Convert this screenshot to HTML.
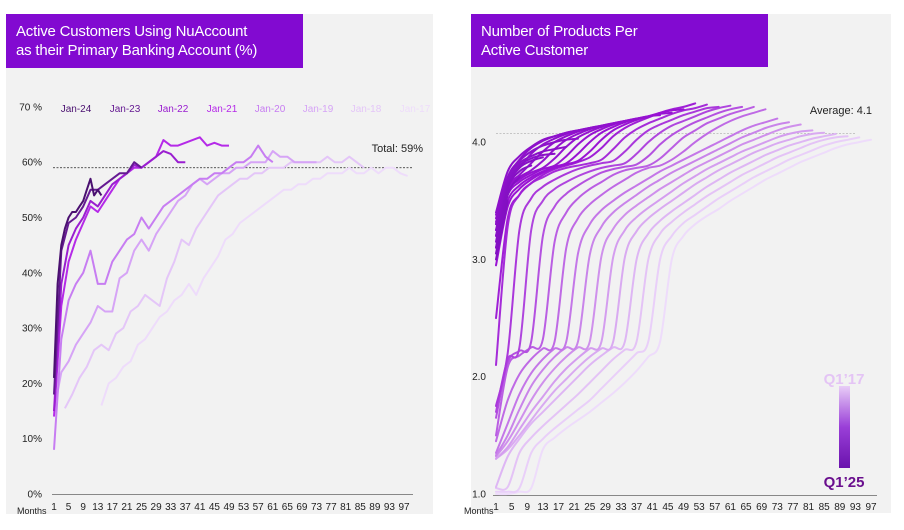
<!DOCTYPE html>
<html><head><meta charset="utf-8">
<style>
html,body{margin:0;padding:0;background:#fff;width:904px;height:530px;overflow:hidden;font-family:"Liberation Sans",sans-serif;}
.panel{position:absolute;background:#f2f2f2;}
.title{position:absolute;background:#820ad1;color:#fff;font-size:15px;line-height:19px;padding:8px 0 0 10px;box-sizing:border-box;letter-spacing:-0.2px;}
svg{position:absolute;left:0;top:0;}
</style></head><body>
<div class="panel" style="left:6px;top:14px;width:427px;height:500px;"></div>
<div class="panel" style="left:471px;top:14px;width:420px;height:499px;"></div>
<div class="title" style="left:6px;top:14px;width:297px;height:54px;">Active Customers Using NuAccount<br>as their Primary Banking Account (%)</div>
<div class="title" style="left:471px;top:14px;width:297px;height:53px;">Number of Products Per<br>Active Customer</div>
<svg id="chart" width="904" height="530" xmlns="http://www.w3.org/2000/svg">
<defs><linearGradient id="lg" x1="0" y1="0" x2="0" y2="1"><stop offset="0" stop-color="#e8cdf7"/><stop offset="0.5" stop-color="#9a3fd8"/><stop offset="1" stop-color="#6a12ad"/></linearGradient></defs>
</svg>
<script>
// ---------- LEFT CHART DATA ----------
const leftYTicks = [0,10,20,30,40,50,60,70];
const leftYTickLabels = ["0%","10%","20%","30%","40%","50%","60%","70 %"];
const monthTicks = [1,5,9,13,17,21,25,29,33,37,41,45,49,53,57,61,65,69,73,77,81,85,89,93,97];
const leftCohorts = ["Jan-24","Jan-23","Jan-22","Jan-21","Jan-20","Jan-19","Jan-18","Jan-17"];
const leftStarts = [1,1,1,1,1,1,4,14];
const leftSteps = [1,2,2,2,2,2,2,2];
const leftTotal = 59;
const lJan24 = [21,38,45,48,50,51,51,52,53,55,57,54,55,54];
const lJan23 = [18,44,49,50,52,55,55,56,57,58,58,60,59];
const lJan22 = [15,38,45,48,50,53,52,54,56,57,58,59.5,59,60,61,62,61.5,60,60];
const lJan21 = [14,34,42,46,49,52,51,53,55,57,58,59,59,60,61,64,63,63,63.5,64,64.5,63,63.5,63,63];
const lJan20 = [8,28,35,38,40,44,38,38,42,44,46,47,50,48,50,52,53,54,55,56,57,57,58,58,59,60,60,61,63,61,60];
const lJan19 = [15,22,24,27,29,31,34,33,33,39,40,44,46,44,47,49,51,53,54,56,57,56,57,58,58,59,59,60,60,60,62,61,61,60,60,60,60];
const lJan18 = [15.5,18,21,23,26,27,26,29,30,33,34,36,35,34,39,42,46,45,48,50,52,54,55,56,57,57,58,58,59,59,59,60,60,60,60,60,61,60,60,61,60,59];
const lJan17 = [16,20,21,23,24,27,28,30,32,33,35,36,38,36,39,41,43,46,47,49,50,51,52,53,54,55,55,56,56,57,57,58,58,58,59,58,58,59,58,59,59,58,57.5];
const leftSeries = [lJan24,lJan23,lJan22,lJan21,lJan20,lJan19,lJan18,lJan17];

// ---------- RIGHT CHART DATA ----------
const rightYTicks = [1,2,3,4];
const rightYTickLabels = ["1.0","2.0","3.0","4.0"];
const rightAverage = 4.1;
const rightStep = 3;
const rightCohorts = ["Q1'17","Q2'17","Q3'17","Q4'17","Q1'18","Q2'18","Q3'18","Q4'18","Q1'19","Q2'19","Q3'19","Q4'19","Q1'20","Q2'20","Q3'20","Q4'20","Q1'21","Q2'21","Q3'21","Q4'21","Q1'22","Q2'22","Q3'22","Q4'22","Q1'23","Q2'23","Q3'23","Q4'23","Q1'24","Q2'24","Q3'24","Q4'24"];
const r0 = [1.0,1.0,1.02,1.05,1.38,1.48,1.56,1.63,1.7,1.78,1.86,1.95,2.05,2.17,2.3, 3.0,3.2,3.3,3.37,3.43,3.5,3.56,3.62,3.68,3.73,3.78,3.83,3.87,3.91,3.95,3.98,4.0,4.02];
const r1 = [1.02,1.02,1.05,1.35,1.47,1.56,1.64,1.72,1.8,1.9,2.0,2.1,2.2,2.3, 3.0,3.2,3.31,3.38,3.45,3.52,3.58,3.64,3.7,3.75,3.8,3.85,3.89,3.93,3.97,4.0,4.02,4.04];
const r2 = [1.05,1.06,1.35,1.48,1.58,1.67,1.76,1.85,1.95,2.05,2.15,2.23,2.3, 3.0,3.22,3.32,3.4,3.47,3.54,3.6,3.66,3.72,3.77,3.82,3.87,3.91,3.95,3.99,4.02,4.04,4.05];
const r3 = [1.06,1.32,1.47,1.6,1.7,1.8,1.9,2.0,2.1,2.18,2.25,2.3, 3.0,3.22,3.33,3.41,3.48,3.55,3.62,3.68,3.74,3.79,3.84,3.89,3.93,3.97,4.0,4.03,4.05,4.07];
const r4 = [1.3,1.38,1.5,1.63,1.76,1.88,1.98,2.08,2.17,2.24,2.3, 3.02,3.24,3.35,3.43,3.5,3.57,3.64,3.7,3.76,3.81,3.86,3.91,3.95,3.99,4.02,4.05,4.07,4.08];
const r5 = [1.3,1.4,1.55,1.7,1.83,1.96,2.07,2.16,2.24,2.3, 3.02,3.25,3.36,3.44,3.51,3.58,3.65,3.71,3.77,3.82,3.87,3.92,3.96,4.0,4.04,4.07,4.09,4.1];
const r6 = [1.32,1.45,1.62,1.8,1.95,2.07,2.17,2.25,2.3, 3.03,3.26,3.38,3.46,3.53,3.6,3.66,3.72,3.78,3.83,3.88,3.93,3.98,4.02,4.06,4.1,4.13,4.15];
const r7 = [1.33,1.5,1.72,1.92,2.06,2.17,2.25,2.3, 3.04,3.28,3.4,3.48,3.55,3.62,3.68,3.74,3.79,3.84,3.89,3.94,3.99,4.04,4.08,4.12,4.15,4.17];
const r8 = [1.35,1.6,1.85,2.03,2.15,2.24,2.3, 3.05,3.3,3.42,3.5,3.57,3.63,3.69,3.75,3.8,3.85,3.9,3.95,4.0,4.05,4.1,4.14,4.17,4.2];
const r9 = [1.45,1.8,2.02,2.15,2.24,2.3, 3.1,3.35,3.47,3.55,3.62,3.68,3.74,3.78,3.8,3.85,3.92,4.0,4.07,4.13,4.18,4.22,4.25,4.28];
const r10 = [1.5,2.08,2.18,2.25,2.32, 3.15,3.4,3.52,3.6,3.66,3.72,3.76,3.78,3.8,3.86,3.95,4.04,4.1,4.16,4.2,4.24,4.27,4.3];
const r11 = [1.65,2.12,2.22,2.3, 3.2,3.45,3.56,3.63,3.69,3.74,3.77,3.79,3.81,3.88,3.98,4.06,4.12,4.17,4.21,4.25,4.28,4.3];
const r12 = [1.7,2.15,2.25, 3.25,3.5,3.6,3.66,3.71,3.75,3.78,3.8,3.82,3.9,4.0,4.08,4.14,4.18,4.22,4.26,4.29,4.31];
const r13 = [1.75,2.2, 3.25,3.52,3.62,3.68,3.73,3.77,3.8,3.82,3.84,3.92,4.02,4.1,4.15,4.19,4.23,4.26,4.29,4.3];
const r14 = [2.1, 3.28,3.55,3.65,3.7,3.75,3.78,3.8,3.82,3.85,3.94,4.04,4.11,4.16,4.2,4.24,4.27,4.29,4.32];
const r15 = [2.5,3.35,3.55,3.65,3.72,3.77,3.8,3.83,3.87,3.95,4.05,4.12,4.17,4.21,4.25,4.28,4.3,4.33];
const r16 = [2.95,3.45,3.6,3.68,3.74,3.78,3.81,3.84,3.92,4.02,4.1,4.15,4.19,4.22,4.25,4.27,4.28];
const r17 = [3.1,3.5,3.63,3.7,3.75,3.79,3.82,3.9,4.0,4.08,4.13,4.17,4.2,4.22,4.24,4.25];
const r18 = [3.2,3.55,3.66,3.72,3.77,3.8,3.88,3.98,4.06,4.11,4.15,4.18,4.2,4.22,4.23];
const r19 = [3.25,3.58,3.68,3.74,3.78,3.86,3.96,4.04,4.09,4.13,4.16,4.18,4.2,4.21];
const r20 = [3.3,3.6,3.7,3.76,3.84,3.94,4.02,4.07,4.11,4.14,4.16,4.18,4.19];
const r21 = [3.32,3.62,3.72,3.82,3.92,4.0,4.05,4.09,4.12,4.14,4.16,4.17];
const r22 = [3.35,3.65,3.78,3.9,3.98,4.03,4.07,4.1,4.12,4.14,4.15];
const r23 = [3.38,3.7,3.85,3.95,4.01,4.05,4.08,4.1,4.12,4.13];
const r24 = [3.4,3.75,3.88,3.96,4.02,4.05,4.08,4.1,4.11];
const r25 = [3.3,3.7,3.84,3.92,3.97,4.0,4.02,4.03];
const r26 = [3.25,3.68,3.82,3.88,3.92,3.94,3.96];
const r27 = [3.2,3.65,3.8,3.86,3.89,3.9];
const r28 = [3.15,3.62,3.78,3.84,3.87];
const r29 = [3.1,3.6,3.75,3.8];
const r30 = [3.05,3.55,3.7];
const r31 = [3.0,3.5];
const rightSeries = [r0,r1,r2,r3,r4,r5,r6,r7,r8,r9,r10,r11,r12,r13,r14,r15,r16,r17,r18,r19,r20,r21,r22,r23,r24,r25,r26,r27,r28,r29,r30,r31];

// ---------- DRAWING ----------
const NS = "http://www.w3.org/2000/svg";
const svg = document.getElementById('chart');
function mk(tag, attrs, parent){ const e=document.createElementNS(NS,tag); for(const k in attrs) e.setAttribute(k,attrs[k]); (parent||svg).appendChild(e); return e; }
function txt(x,y,s,size,fill,anchor,weight){ const t=mk('text',{x:x,y:y,'font-size':size,fill:fill,'text-anchor':anchor||'start','font-family':'Liberation Sans, sans-serif','font-weight':weight||'normal'}); t.textContent=s; return t; }

// Left axes
const lx = m => 54 + (m-1)*(350/96);
const ly = v => 494 - v*5.53;
const lg = mk('g',{});


leftYTicks.forEach((v,i)=>{ const t=txt(42,ly(v)+3.5,leftYTickLabels[i],10,'#222','end');
  
   });
monthTicks.forEach(m=>{ const t=txt(lx(m),510,String(m),10,'#222','middle');
  
   });
let t0=txt(17,514,'Months',9,'#222');


let ax=mk('line',{x1:52,y1:494.5,x2:413,y2:494.5,stroke:'#888','stroke-width':1});


let dl=mk('line',{x1:53,y1:ly(leftTotal),x2:412,y2:ly(leftTotal),stroke:'#222','stroke-width':0.8,'stroke-dasharray':'2,1.5'});


let tl=txt(423,152,'Total: '+leftTotal+'%',11,'#222','end');



const leftColors = ['#4a1070','#651a92','#9a1ed0','#b52ae8','#c77df2','#d6a4f6','#e4c6f8','#eedcfb'];
const legendX = [76,125,173,222,270,318,366,415];
for(let s=leftSeries.length-1;s>=0;s--){
  const vals=leftSeries[s];
  const pts=vals.map((v,i)=>lx(leftStarts[s]+i*leftSteps[s]).toFixed(1)+','+ly(v).toFixed(1));
  const p=mk('polyline',{points:pts.join(' '),fill:'none',stroke:leftColors[s],'stroke-width':2,'stroke-linejoin':'round'});
  
  
}
leftCohorts.forEach((c,i)=>{ const t=txt(legendX[i],112,c,10,leftColors[i],'middle');
  
   });

// Right axes
const rx = m => 496 + (m-1)*(375/96);
const ry = v => 494 - (v-1)*117.3;
rightYTicks.forEach((v,i)=>{ const t=txt(486,ry(v)+3.5,rightYTickLabels[i],10,'#222','end');
  
   });
monthTicks.forEach(m=>{ const t=txt(rx(m),510,String(m),10,'#222','middle');
  
   });
let t1=txt(464,514,'Months',9,'#222');


let ax2=mk('line',{x1:493,y1:495.5,x2:877,y2:495.5,stroke:'#888','stroke-width':1});


let dl2=mk('line',{x1:496,y1:ry(rightAverage)+3,x2:856,y2:ry(rightAverage)+3,stroke:'#999','stroke-width':0.6,'stroke-dasharray':'2,1.5'});


let al=txt(872,114,'Average: '+rightAverage,11,'#222','end');



function hex(c){return [parseInt(c.slice(1,3),16),parseInt(c.slice(3,5),16),parseInt(c.slice(5,7),16)];}
function mix(a,b,t){const A=hex(a),B=hex(b);return 'rgb('+A.map((v,i)=>Math.round(v+(B[i]-v)*t)).join(',')+')';}
function rcolor(k){ return k<=16 ? mix('#eedcfb','#9a12d4',k/16) : mix('#9a12d4','#8210c2',(k-16)/15); }
function smooth(P){
  if(P.length<2) return '';
  let d='M'+P[0][0].toFixed(1)+','+P[0][1].toFixed(1);
  for(let i=0;i<P.length-1;i++){
    const p0=P[Math.max(0,i-1)],p1=P[i],p2=P[i+1],p3=P[Math.min(P.length-1,i+2)];
    const c1x=p1[0]+(p2[0]-p0[0])/6,c1y=p1[1]+(p2[1]-p0[1])/6;
    const c2x=p2[0]-(p3[0]-p1[0])/6,c2y=p2[1]-(p3[1]-p1[1])/6;
    d+=' C'+c1x.toFixed(1)+','+c1y.toFixed(1)+' '+c2x.toFixed(1)+','+c2y.toFixed(1)+' '+p2[0].toFixed(1)+','+p2[1].toFixed(1);
  }
  return d;
}
for(let k=0;k<rightSeries.length;k++){
  const P=rightSeries[k].map((v,i)=>[rx(1+i*rightStep),ry(v)]);
  const p=mk('path',{d:smooth(P),fill:'none',stroke:rcolor(k),'stroke-width':2,'stroke-linecap':'round'});
  
  
}
let lb=mk('rect',{x:839,y:386,width:11,height:82,fill:'url(#lg)'});


let q1=txt(844,384,"Q1\u201917",15,'#e4c4f5','middle','bold');


let q2=txt(844,487,"Q1\u201925",15,'#6a0f8e','middle','bold');


</script>
</body></html>
